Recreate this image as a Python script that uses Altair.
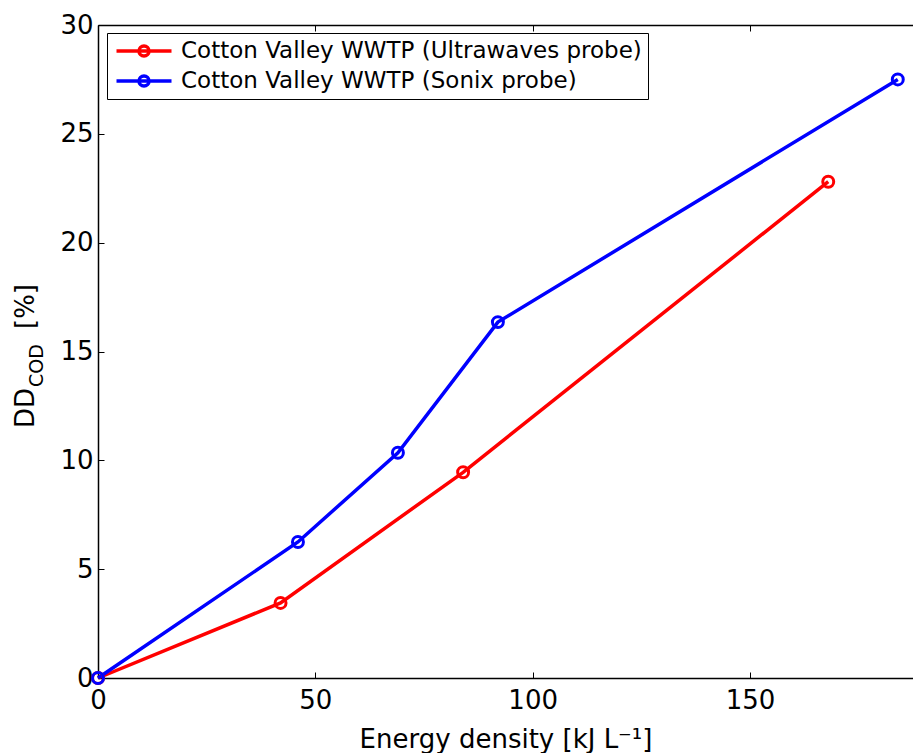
import altair as alt
import pandas as pd

series_names = ["Cotton Valley WWTP (Ultrawaves probe)", "Cotton Valley WWTP (Sonix probe)"]
series_colors = ["#ff0000", "#0000ff"]
ultra_x = [0, 42, 84, 168]
ultra_y = [0, 3.45, 9.45, 22.8]
sonix_x = [0, 46, 69, 92, 184]
sonix_y = [0, 6.25, 10.35, 16.35, 27.5]
x_ticks = [0, 50, 100, 150]
y_ticks = [0, 5, 10, 15, 20, 25, 30]
x_title = "Energy density [kJ L\u207b\u00b9]"
y_title_parts = ["DD", "COD", "[%]"]

rows = []
for xs_, ys_, name in [(ultra_x, ultra_y, series_names[0]), (sonix_x, sonix_y, series_names[1])]:
    for xv, yv in zip(xs_, ys_):
        rows.append({"series": name, "x": xv, "y": yv})
df = pd.DataFrame(rows)

FONT = "DejaVu Sans"
W, H = 815, 653
xscale = alt.Scale(domain=[0, 187.5], nice=False, zero=False)
yscale = alt.Scale(domain=[0, 30], nice=False)

legend_path = "M-2.75,0L2.75,0M0.5,0A0.5,0.5,0,1,1,-0.5,0A0.5,0.5,0,1,1,0.5,0"

base = alt.Chart(df)

main = base.mark_line(
    strokeWidth=3.5,
    point=alt.OverlayMarkDef(filled=False, size=120, strokeWidth=3),
).encode(
    x=alt.X("x:Q", scale=xscale, axis=alt.Axis(
        orient="bottom", values=x_ticks, title=x_title, grid=False, ticks=False,
        domain=True, domainColor="black", domainWidth=1.5,
        labelFont=FONT, labelFontSize=26, labelColor="black", labelPadding=9,
        labelFlush=False, labelOverlap=False,
        titleFont=FONT, titleFontSize=26, titleColor="black", titleFontWeight="normal",
        titlePadding=13)),
    y=alt.Y("y:Q", scale=yscale, axis=alt.Axis(
        orient="left", values=y_ticks, title=None, grid=False, ticks=False,
        domain=True, domainColor="black", domainWidth=1.5,
        labelFont=FONT, labelFontSize=26, labelColor="black", labelPadding=5,
        labelFlush=False, labelOverlap=False)),
    color=alt.Color("series:N", scale=alt.Scale(domain=series_names, range=series_colors),
                    legend=alt.Legend(
                        title=None, orient="none", legendX=9, legendY=8,
                        symbolType=legend_path, symbolSize=400, symbolStrokeWidth=3.5,
                        symbolFillColor="transparent",
                        symbolOffset=19, labelOffset=25,
                        labelFont=FONT, labelFontSize=23, labelColor="black", labelLimit=800,
                        padding=6, rowPadding=6,
                        strokeColor="black", fillColor="white")),
)

def ticks_layer(x_axis, y_axis):
    return base.mark_point(opacity=0).encode(
        x=alt.X("x:Q", scale=xscale, axis=x_axis),
        y=alt.Y("y:Q", scale=yscale, axis=y_axis),
    )

tick_common = dict(labels=False, domain=False, grid=False, ticks=True, tickSize=6,
                   tickColor="black", tickWidth=1, title=None)
layer_b = ticks_layer(
    alt.Axis(orient="bottom", offset=-6, values=x_ticks, **tick_common),
    alt.Axis(orient="left", offset=-6, values=y_ticks, **tick_common),
)
layer_c = ticks_layer(
    alt.Axis(orient="top", labels=False, ticks=False, grid=False, domain=True,
             domainColor="black", domainWidth=1.5, title=None),
    None,
)
layer_d = ticks_layer(
    alt.Axis(orient="top", offset=-6, values=x_ticks, **tick_common),
    None,
)

def title_text(txt, size, xpos, ypos):
    return alt.Chart(pd.DataFrame({"t": [txt]})).mark_text(
        angle=270, align="left", baseline="alphabetic", font=FONT, fontSize=size, color="black"
    ).encode(x=alt.value(xpos), y=alt.value(ypos), text="t:N")

t1 = title_text(y_title_parts[0], 26, -64, 403)
t2 = title_text(y_title_parts[1], 19, -55, 362)
t3 = title_text(y_title_parts[2], 26, -64, 304)

chart = alt.layer(main, layer_b, layer_c, layer_d, t1, t2, t3).resolve_axis(
    x="independent", y="independent"
).properties(
    width=W, height=H,
    autosize=alt.AutoSizeParams(type="none"),
    padding={"left": 98, "top": 25, "right": 0, "bottom": 75},
    background="white",
).configure_view(strokeWidth=0)

chart.save("out.html", embed_options={"renderer": "svg", "actions": False})
